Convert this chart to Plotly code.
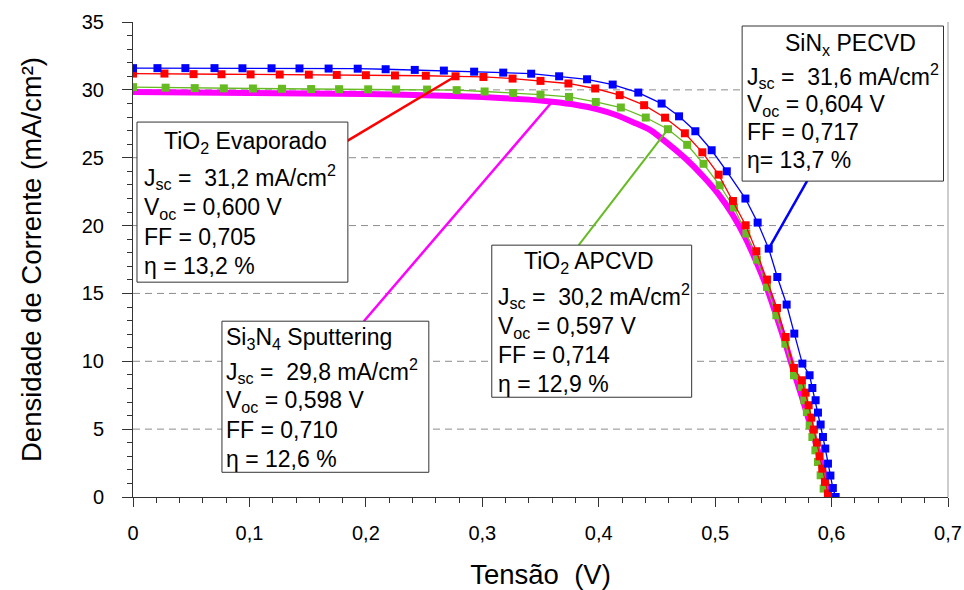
import plotly.graph_objects as go

# ---------------- data: J-V curves (V in volts, J in mA/cm2) ----------------
v_sinx = [0.000, 0.021, 0.045, 0.070, 0.094, 0.119, 0.143, 0.168, 0.193, 0.217,
          0.242, 0.267, 0.293, 0.318, 0.342, 0.366, 0.390, 0.412, 0.434, 0.454,
          0.469, 0.483, 0.497, 0.510, 0.526, 0.5365, 0.546, 0.5534, 0.5614, 0.568,
          0.5749, 0.5811, 0.5835, 0.5863, 0.5883, 0.5906, 0.5926, 0.5946, 0.5969,
          0.599, 0.6011, 0.6035]
j_sinx = [31.60, 31.60, 31.60, 31.60, 31.59, 31.59, 31.58, 31.57, 31.56, 31.52,
          31.47, 31.42, 31.34, 31.27, 31.19, 31.00, 30.78, 30.39, 29.80, 28.99,
          28.05, 26.95, 25.55, 24.00, 21.99, 20.22, 18.30, 16.21, 14.18, 12.04,
          9.83, 8.97, 8.03, 7.13, 6.22, 5.34, 4.42, 3.57, 2.46,
          1.58, 0.66, 0.00]

v_evap = [0.000, 0.027, 0.052, 0.076, 0.101, 0.126, 0.151, 0.175, 0.200, 0.225,
          0.2515, 0.277, 0.301, 0.326, 0.350, 0.374, 0.397, 0.418, 0.439, 0.457,
          0.474, 0.489, 0.503, 0.5153, 0.5262, 0.5354, 0.5445, 0.5531, 0.5606, 0.5677,
          0.5745, 0.5777, 0.5803, 0.5826, 0.5848, 0.5874, 0.5897, 0.592, 0.5943,
          0.5969, 0.600]
j_evap = [31.20, 31.20, 31.16, 31.15, 31.14, 31.13, 31.12, 31.10, 31.08, 31.06,
          31.04, 31.00, 30.95, 30.83, 30.66, 30.47, 30.10, 29.61, 28.87, 27.95,
          26.80, 25.40, 23.75, 21.81, 20.02, 18.11, 16.02, 13.93, 11.79, 9.51,
          8.60, 7.69, 6.76, 5.85, 4.97, 4.01, 3.00, 2.09, 1.11,
          0.25, 0.00]

v_apcvd = [0.000, 0.028, 0.053, 0.078, 0.103, 0.128, 0.153, 0.177, 0.202, 0.226,
           0.2526, 0.278, 0.302, 0.3265, 0.350, 0.3745, 0.3975, 0.419, 0.4404, 0.4595,
           0.476, 0.490, 0.5039, 0.5162, 0.5268, 0.5359, 0.5445, 0.5526, 0.5603, 0.5677,
           0.5745, 0.5766, 0.5788, 0.5812, 0.5835, 0.5861, 0.5883, 0.5906, 0.5932, 0.597]
j_apcvd = [30.20, 30.16, 30.13, 30.11, 30.10, 30.08, 30.06, 30.05, 30.04, 30.03,
           30.02, 29.98, 29.88, 29.77, 29.65, 29.48, 29.11, 28.70, 27.96, 27.10,
           25.95, 24.55, 22.97, 21.33, 19.41, 17.49, 15.48, 13.39, 11.30, 8.97,
           8.11, 7.13, 6.26, 5.28, 4.42, 3.44, 2.58, 1.60, 0.62, 0.00]

v_sput = [0.000, 0.05, 0.10, 0.15, 0.20, 0.25, 0.30, 0.34, 0.36, 0.38,
          0.40, 0.415, 0.43, 0.445, 0.46, 0.475, 0.49, 0.503, 0.515, 0.526,
          0.535, 0.544, 0.552, 0.56, 0.567, 0.574, 0.58, 0.586, 0.591, 0.595, 0.598]
j_sput = [29.85, 29.81, 29.77, 29.73, 29.69, 29.61, 29.47, 29.28, 29.12, 28.90,
          28.55, 28.15, 27.60, 27.00, 26.00, 24.90, 23.60, 22.30, 20.80, 19.10,
          17.40, 15.50, 13.50, 11.40, 9.40, 7.50, 5.80, 4.10, 2.60, 1.20, 0.00]

# axis ticks
x_ticks = [0, 0.1, 0.2, 0.3, 0.4, 0.5, 0.6, 0.7]
x_tick_text = ["0", "0,1", "0,2", "0,3", "0,4", "0,5", "0,6", "0,7"]
y_ticks = [0, 5, 10, 15, 20, 25, 30, 35]
y_grid = [5, 10, 15, 20, 25, 30]

# parameter boxes (text content)
box_sinx = ["SiN<sub>x</sub> PECVD",
            "J<sub>sc</sub> =\u00a0 31,6 mA/cm<sup>2</sup>",
            "V<sub>oc</sub> = 0,604 V",
            "FF = 0,717",
            "\u03b7= 13,7 %"]
box_evap = ["TiO<sub>2</sub> Evaporado",
            "J<sub>sc</sub> =\u00a0 31,2 mA/cm<sup>2</sup>",
            "V<sub>oc</sub> = 0,600 V",
            "FF = 0,705",
            "\u03b7 = 13,2 %"]
box_apcvd = ["TiO<sub>2</sub> APCVD",
             "J<sub>sc</sub> =\u00a0 30,2 mA/cm<sup>2</sup>",
             "V<sub>oc</sub> = 0,597 V",
             "FF = 0,714",
             "\u03b7 = 12,9 %"]
box_sput = ["Si<sub>3</sub>N<sub>4</sub> Sputtering",
            "J<sub>sc</sub> =\u00a0 29,8 mA/cm<sup>2</sup>",
            "V<sub>oc</sub> = 0,598 V",
            "FF = 0,710",
            "\u03b7 = 12,6 %"]

# ---------------- layout geometry (pixels) ----------------
W, H = 964, 590
ML, MR, MT, MB = 133, 15.5, 22, 93.3
PW, PH = W - ML - MR, H - MT - MB
X_RANGE = [0, 0.7]
Y_RANGE = [0, 35]


def px_to_paper_x(px):
    return (px - ML) / PW


def px_to_paper_y(py):
    return (H - MB - py) / PH


def px_to_data_x(px):
    return X_RANGE[0] + (px - ML) / PW * (X_RANGE[1] - X_RANGE[0])


def px_to_data_y(py):
    return Y_RANGE[0] + (H - MB - py) / PH * (Y_RANGE[1] - Y_RANGE[0])


FONT = "Liberation Sans, Arial, sans-serif"
BLUE, RED, GREEN, MAGENTA = "#0000FF", "#FF0000", "#66BB22", "#FF00FF"
AXIS_COLOR = "#333333"
BOX_FONT_SIZE = 23

fig = go.Figure()

# thick sputtering curve underneath
fig.add_trace(go.Scatter(x=v_sput, y=j_sput, mode="lines",
                         line=dict(color=MAGENTA, width=6, shape="spline", smoothing=0.6),
                         name="Si3N4 Sputtering"))
for vx, jy, col, nm in [(v_apcvd, j_apcvd, GREEN, "TiO2 APCVD"),
                        (v_evap, j_evap, RED, "TiO2 Evaporado"),
                        (v_sinx, j_sinx, BLUE, "SiNx PECVD")]:
    fig.add_trace(go.Scatter(x=vx, y=jy, mode="lines+markers",
                             line=dict(color=col, width=1.3),
                             marker=dict(symbol="square", size=8, color=col),
                             name=nm))

shapes = []
# dashed horizontal grid
for g in y_grid:
    shapes.append(dict(type="line", xref="paper", yref="y", x0=0, x1=1, y0=g, y1=g,
                       line=dict(color="#8c8c8c", width=1, dash="7px,5px"), layer="below"))
# right frame edge
shapes.append(dict(type="line", xref="paper", yref="paper", x0=1, x1=1, y0=0, y1=1,
                   line=dict(color="#9a9a9a", width=1), layer="below"))

annotations = []


def add_box(lines, x0, x1, y0, y1, text_x, line_y, title_x=None):
    shapes.append(dict(type="rect", xref="paper", yref="paper",
                       x0=px_to_paper_x(x0), x1=px_to_paper_x(x1),
                       y0=px_to_paper_y(y1), y1=px_to_paper_y(y0),
                       line=dict(color="#333333", width=1), fillcolor="white", layer="above"))
    for i, (txt, ly) in enumerate(zip(lines, line_y)):
        if i == 0 and title_x is not None:
            ax, anchor = title_x, "center"
        else:
            ax, anchor = text_x, "left"
        annotations.append(dict(text=txt, xref="paper", yref="paper",
                                x=px_to_paper_x(ax), y=px_to_paper_y(ly),
                                xanchor=anchor, yanchor="middle", showarrow=False,
                                font=dict(family=FONT, size=BOX_FONT_SIZE, color="black")))


def add_pointer(px0, py0, vx, jy, idx, col, width):
    shapes.append(dict(type="line", xref="x", yref="y",
                       x0=px_to_data_x(px0), y0=px_to_data_y(py0),
                       x1=vx[idx], y1=jy[idx],
                       line=dict(color=col, width=width), layer="above"))


# leader lines from boxes to curves
add_pointer(808, 180, v_sinx, j_sinx, v_sinx.index(0.546), BLUE, 2.5)
add_pointer(347, 141, v_evap, j_evap, v_evap.index(0.277), RED, 2.5)
add_pointer(579, 245, v_apcvd, j_apcvd, v_apcvd.index(0.4595), GREEN, 2)
add_pointer(364, 321, v_sput, j_sput, v_sput.index(0.36), MAGENTA, 2.5)

add_box(box_sinx, 742.5, 944, 26, 181, 745, [44, 76, 105, 132, 160], title_x=851)
add_box(box_evap, 137, 348, 122, 282, 142, [142, 177, 208, 237, 266], title_x=246)
add_box(box_apcvd, 492, 692, 245, 397, 496, [262, 296, 327, 355, 384], title_x=589)
add_box(box_sput, 222, 429, 321, 472, 224, [338, 371, 401, 430, 459])

fig.update_layout(
    width=W, height=H,
    margin=dict(l=ML, r=MR, t=MT, b=MB, pad=0, autoexpand=False),
    paper_bgcolor="white", plot_bgcolor="white",
    showlegend=False,
    font=dict(family=FONT, color="black"),
    shapes=shapes, annotations=annotations,
    xaxis=dict(range=X_RANGE, tickvals=x_ticks, ticktext=x_tick_text,
               automargin=False,
               showgrid=False, zeroline=False, showline=True,
               linecolor=AXIS_COLOR, linewidth=1,
               ticks="outside", ticklen=9, tickcolor=AXIS_COLOR, tickwidth=1,
               ticklabelstandoff=9,
               minor=dict(ticks="outside", dtick=0.02, ticklen=5, tickcolor=AXIS_COLOR, showgrid=False),
               tickfont=dict(family=FONT, size=20),
               title=dict(text="Tens\u00e3o\u00a0 (V)", font=dict(family=FONT, size=27.5), standoff=22)),
    yaxis=dict(range=Y_RANGE, tickvals=y_ticks,
               automargin=False,
               showgrid=False, zeroline=False, showline=True,
               linecolor=AXIS_COLOR, linewidth=1,
               ticks="outside", ticklen=10, tickcolor=AXIS_COLOR, tickwidth=1,
               ticklabelstandoff=14,
               minor=dict(ticks="outside", dtick=1, ticklen=5, tickcolor=AXIS_COLOR, showgrid=False),
               tickfont=dict(family=FONT, size=20),
               title=dict(text="Densidade de Corrente (mA/cm\u00b2)", font=dict(family=FONT, size=27.5), standoff=32)),
)

fig.write_html("out.html")
